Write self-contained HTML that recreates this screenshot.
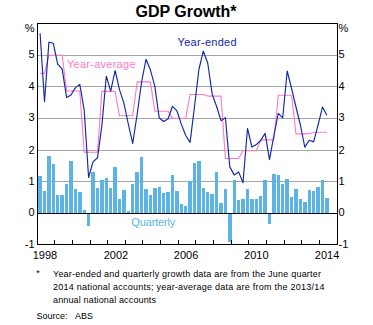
<!DOCTYPE html><html><head><meta charset="utf-8"><style>html,body{margin:0;padding:0;background:#fff;width:373px;height:325px;overflow:hidden}svg{display:block}text{font-family:"Liberation Sans",sans-serif}</style></head><body>
<svg width="373" height="325" viewBox="0 0 373 325">
<rect width="373" height="325" fill="#fff"/>
<text x="186" y="17" text-anchor="middle" font-size="16" font-weight="bold" fill="#000">GDP Growth*</text>
<g stroke="#a6a6a6" stroke-width="1"><line x1="38" y1="55.5" x2="337" y2="55.5"/><line x1="38" y1="86.5" x2="337" y2="86.5"/><line x1="38" y1="118.5" x2="337" y2="118.5"/><line x1="38" y1="150.5" x2="337" y2="150.5"/><line x1="38" y1="181.5" x2="337" y2="181.5"/></g>
<g fill="#5bb4e5" shape-rendering="crispEdges"><rect x="38" y="176" width="4" height="37"/><rect x="43" y="191" width="3" height="22"/><rect x="47" y="156" width="4" height="57"/><rect x="52" y="164" width="3" height="49"/><rect x="56" y="195" width="3" height="18"/><rect x="60" y="195" width="4" height="18"/><rect x="65" y="184" width="3" height="29"/><rect x="69" y="161" width="4" height="52"/><rect x="74" y="189" width="3" height="24"/><rect x="78" y="192" width="4" height="21"/><rect x="83" y="210" width="3" height="3"/><rect x="87" y="214" width="3" height="12"/><rect x="91" y="172" width="4" height="41"/><rect x="96" y="188" width="3" height="25"/><rect x="100" y="180" width="4" height="33"/><rect x="105" y="178" width="3" height="35"/><rect x="109" y="188" width="3" height="25"/><rect x="113" y="167" width="4" height="46"/><rect x="118" y="199" width="3" height="14"/><rect x="122" y="190" width="4" height="23"/><rect x="127" y="211" width="3" height="2"/><rect x="131" y="184" width="3" height="29"/><rect x="135" y="172" width="4" height="41"/><rect x="140" y="157" width="3" height="56"/><rect x="144" y="189" width="4" height="24"/><rect x="149" y="195" width="3" height="18"/><rect x="153" y="188" width="4" height="25"/><rect x="158" y="187" width="3" height="26"/><rect x="162" y="193" width="3" height="20"/><rect x="166" y="192" width="4" height="21"/><rect x="171" y="175" width="3" height="38"/><rect x="175" y="191" width="4" height="22"/><rect x="180" y="204" width="3" height="9"/><rect x="184" y="206" width="3" height="7"/><rect x="188" y="181" width="4" height="32"/><rect x="193" y="163" width="3" height="50"/><rect x="197" y="161" width="4" height="52"/><rect x="202" y="188" width="3" height="25"/><rect x="206" y="192" width="3" height="21"/><rect x="210" y="194" width="4" height="19"/><rect x="215" y="172" width="3" height="41"/><rect x="219" y="203" width="4" height="10"/><rect x="224" y="189" width="3" height="24"/><rect x="228" y="214" width="4" height="28"/><rect x="233" y="180" width="3" height="33"/><rect x="237" y="200" width="3" height="13"/><rect x="241" y="199" width="4" height="14"/><rect x="246" y="189" width="3" height="24"/><rect x="250" y="199" width="4" height="14"/><rect x="255" y="199" width="3" height="14"/><rect x="259" y="196" width="3" height="17"/><rect x="263" y="180" width="4" height="33"/><rect x="268" y="214" width="3" height="10"/><rect x="272" y="174" width="4" height="39"/><rect x="277" y="175" width="3" height="38"/><rect x="281" y="184" width="3" height="29"/><rect x="285" y="179" width="4" height="34"/><rect x="290" y="197" width="3" height="16"/><rect x="294" y="189" width="4" height="24"/><rect x="299" y="199" width="3" height="14"/><rect x="303" y="202" width="4" height="11"/><rect x="308" y="190" width="3" height="23"/><rect x="312" y="191" width="3" height="22"/><rect x="316" y="187" width="4" height="26"/><rect x="321" y="180" width="3" height="33"/><rect x="325" y="198" width="4" height="15"/></g>
<line x1="38" y1="213.5" x2="337" y2="213.5" stroke="#000" stroke-width="1"/>
<g stroke="#000" stroke-width="1"><line x1="54.5" y1="240" x2="54.5" y2="244"/><line x1="72.5" y1="240" x2="72.5" y2="244"/><line x1="90.5" y1="240" x2="90.5" y2="244"/><line x1="107.5" y1="240" x2="107.5" y2="244"/><line x1="125.5" y1="240" x2="125.5" y2="244"/><line x1="142.5" y1="240" x2="142.5" y2="244"/><line x1="160.5" y1="240" x2="160.5" y2="244"/><line x1="178.5" y1="240" x2="178.5" y2="244"/><line x1="195.5" y1="240" x2="195.5" y2="244"/><line x1="213.5" y1="240" x2="213.5" y2="244"/><line x1="231.5" y1="240" x2="231.5" y2="244"/><line x1="248.5" y1="240" x2="248.5" y2="244"/><line x1="266.5" y1="240" x2="266.5" y2="244"/><line x1="284.5" y1="240" x2="284.5" y2="244"/><line x1="301.5" y1="240" x2="301.5" y2="244"/><line x1="319.5" y1="240" x2="319.5" y2="244"/></g>
<polyline points="40.1,73.4 44.5,73.4 48.9,55.4 53.3,55.4 57.7,55.4 62.2,55.4 66.6,91.0 71.0,91.0 75.4,91.0 79.8,91.0 84.2,152.3 88.6,152.3 93.0,152.3 97.5,152.3 101.9,91.4 106.3,91.4 110.7,91.4 115.1,91.4 119.5,115.8 123.9,115.8 128.3,115.8 132.7,115.8 137.2,81.9 141.6,81.9 146.0,81.9 150.4,81.9 154.8,111.2 159.2,111.2 163.6,111.2 168.0,111.2 172.5,118.4 176.9,118.4 181.3,118.4 185.7,118.4 190.1,94.5 194.5,94.5 198.9,94.5 203.3,94.5 207.7,96.1 212.2,96.1 216.6,96.1 221.0,96.1 225.4,158.5 229.8,158.5 234.2,158.5 238.6,158.5 243.0,150.8 247.5,150.8 251.9,150.8 256.3,150.8 260.7,139.9 265.1,139.9 269.5,139.9 273.9,139.9 278.3,95.3 282.7,95.3 287.2,95.3 291.6,95.3 296.0,133.9 300.4,133.9 304.8,133.9 309.2,133.9 313.6,132.2 318.0,132.2 322.5,132.2 326.9,132.2" fill="none" stroke="#ff7ac6" stroke-width="1.1" stroke-linejoin="round"/>
<polyline points="40.1,33.2 44.5,101.5 48.9,42.2 53.3,43.3 57.7,64.2 62.2,69.2 66.6,97.4 71.0,95.0 75.4,87.6 79.8,84.4 84.2,110.0 88.6,177.5 93.0,161.9 97.5,157.8 101.9,125.4 106.3,76.2 110.7,91.1 115.1,70.5 119.5,89.6 123.9,103.1 128.3,124 132.7,143.4 137.2,114 141.6,82 146.0,59.3 150.4,69.8 154.8,86.2 159.2,117.8 163.6,121.5 168.0,119 172.5,106.3 176.9,110.8 181.3,124.1 185.7,135.5 190.1,142.4 194.5,106.5 198.9,69.5 203.3,51.2 207.7,63 212.2,94.2 216.6,106.5 221.0,120.7 225.4,117.6 229.8,166.9 234.2,174.9 238.6,171.9 243.0,182.8 247.5,128.5 251.9,147 256.3,144.6 260.7,140.5 265.1,133.4 269.5,159.6 273.9,135.5 278.3,113.4 282.7,117.8 287.2,71.0 291.6,88.5 296.0,107 300.4,125 304.8,147.1 309.2,140.2 313.6,141.9 318.0,125.4 322.5,107.1 326.9,115.3" fill="none" stroke="#1226aa" stroke-width="1.15" stroke-linejoin="round"/>
<rect x="37.5" y="23.5" width="300" height="221" fill="none" stroke="#000" stroke-width="1"/>
<g font-size="11" fill="#000"><text x="34.5" y="31.5" text-anchor="end">%</text><text x="338.5" y="31.5">%</text><text x="34.5" y="58" text-anchor="end">5</text><text x="338.5" y="58">5</text><text x="34.5" y="90" text-anchor="end">4</text><text x="338.5" y="90">4</text><text x="34.5" y="121" text-anchor="end">3</text><text x="338.5" y="121">3</text><text x="34.5" y="154" text-anchor="end">2</text><text x="338.5" y="154">2</text><text x="34.5" y="185" text-anchor="end">1</text><text x="338.5" y="185">1</text><text x="34.5" y="216" text-anchor="end">0</text><text x="338.5" y="216">0</text><text x="34.5" y="248" text-anchor="end">-1</text><text x="338.5" y="248">-1</text></g>
<g font-size="11" fill="#000"><text x="45.0" y="258.5" text-anchor="middle">1998</text><text x="116.0" y="258.5" text-anchor="middle">2002</text><text x="186.1" y="258.5" text-anchor="middle">2006</text><text x="256.35" y="258.5" text-anchor="middle">2010</text><text x="327.05" y="258.5" text-anchor="middle">2014</text></g>
<text x="67" y="67.8" font-size="11" fill="#ff7ac6" textLength="68.5" lengthAdjust="spacing">Year-average</text>
<text x="177.6" y="45.9" font-size="11" fill="#1226aa" textLength="59" lengthAdjust="spacing">Year-ended</text>
<text x="131.3" y="225.5" font-size="11" fill="#5bb4e5" textLength="44" lengthAdjust="spacing">Quarterly</text>
<g font-size="9" fill="#000">
<text x="36.2" y="276.3">*</text>
<text x="53" y="277.3" textLength="268" lengthAdjust="spacing">Year-ended and quarterly growth data are from the June quarter</text>
<text x="53" y="290" textLength="271.5" lengthAdjust="spacing">2014 national accounts; year-average data are from the 2013/14</text>
<text x="53" y="302.7" textLength="103" lengthAdjust="spacing">annual national accounts</text>
<text x="36.4" y="319.1">Source:</text><text x="75" y="319.1">ABS</text>
</g>
</svg></body></html>
